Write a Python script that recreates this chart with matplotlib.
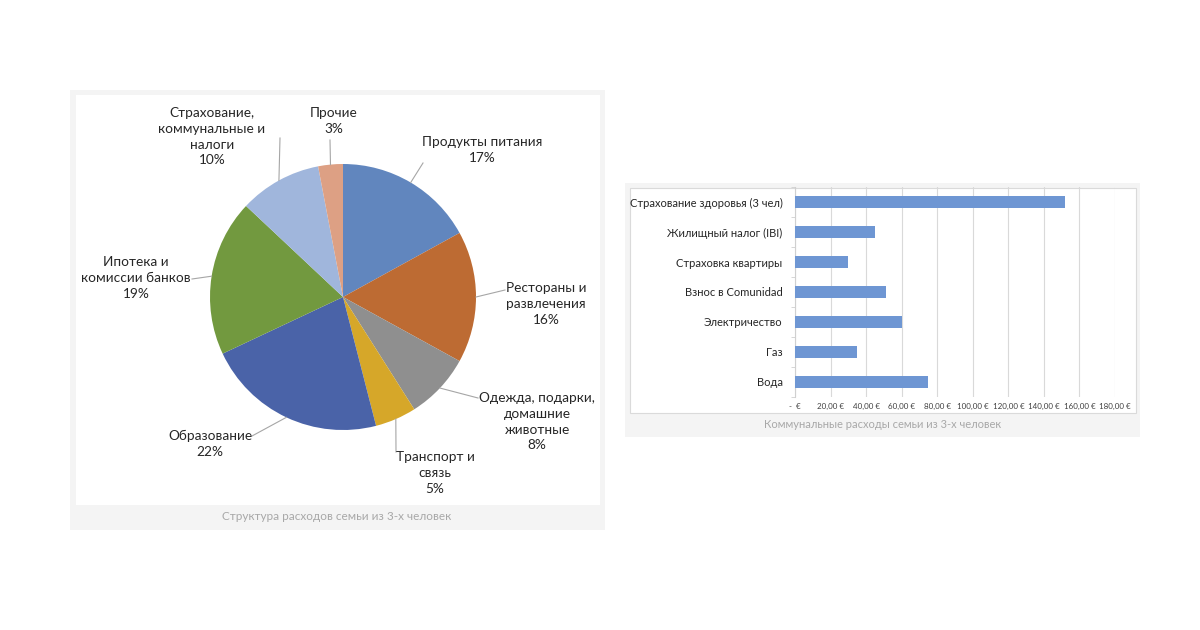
import matplotlib
matplotlib.use("Agg")
import matplotlib.pyplot as plt
from matplotlib.patches import Rectangle
import numpy as np

plt.rcParams['font.family'] = ['Lato', 'DejaVu Sans']

# pie data
pie_labels = ["Продукты питания", "Рестораны и\nразвлечения", "Одежда, подарки,\nдомашние\nживотные",
              "Транспорт и\nсвязь", "Образование", "Ипотека и\nкомиссии банков",
              "Страхование,\nкоммунальные и\nналоги", "Прочие"]
pie_values = [17, 16, 8, 5, 22, 19, 10, 3]
pie_colors = ["#6186BE", "#BD6B33", "#8F8F8F", "#D6A729", "#4A63A8", "#72993F", "#A0B6DC", "#DDA084"]
pie_caption = "Структура расходов семьи из 3-х человек"

# bar data
bar_labels = ["Страхование здоровья (3 чел)", "Жилищный налог (IBI)", "Страховка квартиры",
              "Взнос в Comunidad", "Электричество", "Газ", "Вода"]
bar_values = [152, 45, 30, 51, 60, 35, 75]
bar_ticks = [0, 20, 40, 60, 80, 100, 120, 140, 160, 180]
bar_caption = "Коммунальные расходы семьи из 3-х человек"

W, H = 1200, 630
fig = plt.figure(figsize=(12, 6.3), dpi=100)
fig.patch.set_facecolor("white")

# full-figure axes in pixel units (y measured from bottom)
bg = fig.add_axes([0, 0, 1, 1])

def py(y):
    return H - y

# panel frames
bg.add_patch(Rectangle((70, py(530)), 535, 440, facecolor="#F4F4F4", edgecolor="none", zorder=0))
bg.add_patch(Rectangle((76, py(505)), 524, 410, facecolor="white", edgecolor="none", zorder=0))
bg.add_patch(Rectangle((625, py(437)), 515, 254, facecolor="#F4F4F4", edgecolor="none", zorder=0))
bg.add_patch(Rectangle((630, py(413)), 506, 225, facecolor="white", edgecolor="#DADADA", lw=0.8, zorder=0))

bg.text(337, py(517), pie_caption, ha="center", va="center", fontsize=8.5, color="#A8A8A8")
bg.text(883, py(425), bar_caption, ha="center", va="center", fontsize=8, color="#A8A8A8")

# pie
cx, cy, r = 343, py(297), 133
wedges, _ = bg.pie(pie_values, colors=pie_colors, startangle=90, counterclock=False,
                   center=(cx, cy), radius=r, frame=True,
                   wedgeprops=dict(edgecolor="none"))
bg.set_xlim(0, W)
bg.set_ylim(0, H)
bg.set_aspect("auto")
bg.axis("off")

# label layout: (text x, text y top, leader end x, leader end y)
label_pos = [
    (482, 136, 423, 163),
    (546, 282, 505, 290),
    (537, 392, 478, 398),
    (435, 451, 396, 452),
    (210, 430, 252, 436),
    (136, 256, 192, 279),
    (212, 107, 280, 138),
    (334, 107, 330, 140),
]
for w, lab, v, (tx, ty, lx, ly) in zip(wedges, pie_labels, pie_values, label_pos):
    ang = np.deg2rad((w.theta1 + w.theta2) / 2)
    ex = cx + r * np.cos(ang)
    ey = cy + r * np.sin(ang)
    bg.plot([ex, lx], [ey, py(ly)], color="#A6A6A6", lw=0.8, zorder=3)
    bg.text(tx, py(ty), lab + "\n%d%%" % v, ha="center", va="top", fontsize=9.8,
            color="#262626", linespacing=1.38, zorder=4)

# bar chart
ax = fig.add_axes([795 / W, (H - 397) / H, 320 / W, 210 / H])
ypos = np.arange(len(bar_labels))
ax.barh(ypos, bar_values, height=0.42, color="#6E96D3", zorder=3)
ax.set_ylim(len(bar_labels) - 0.5, -0.5)
ax.set_xlim(0, 180)
ax.set_xticks(bar_ticks)
ax.set_xticklabels(["-  €" if t == 0 else ("%.2f €" % t).replace(".", ",") for t in bar_ticks],
                   fontsize=5.8, color="#404040")
ax.set_yticks(ypos)
ax.set_yticklabels(bar_labels, fontsize=8, color="#262626")
ax.tick_params(axis="y", length=0, pad=9)
ax.tick_params(axis="x", length=0, pad=4)
ax.set_yticks(np.arange(-0.5, len(bar_labels), 1), minor=True)
ax.tick_params(axis="y", which="minor", length=3, color="#D0D0D0", direction="out")
ax.grid(axis="x", color="#D9D9D9", lw=0.8, zorder=0)
for s in ["top", "right", "bottom"]:
    ax.spines[s].set_visible(False)
ax.spines["left"].set_color("#D0D0D0")
ax.spines["left"].set_linewidth(0.8)
ax.set_facecolor("none")

fig.savefig("out.png", dpi=100)
